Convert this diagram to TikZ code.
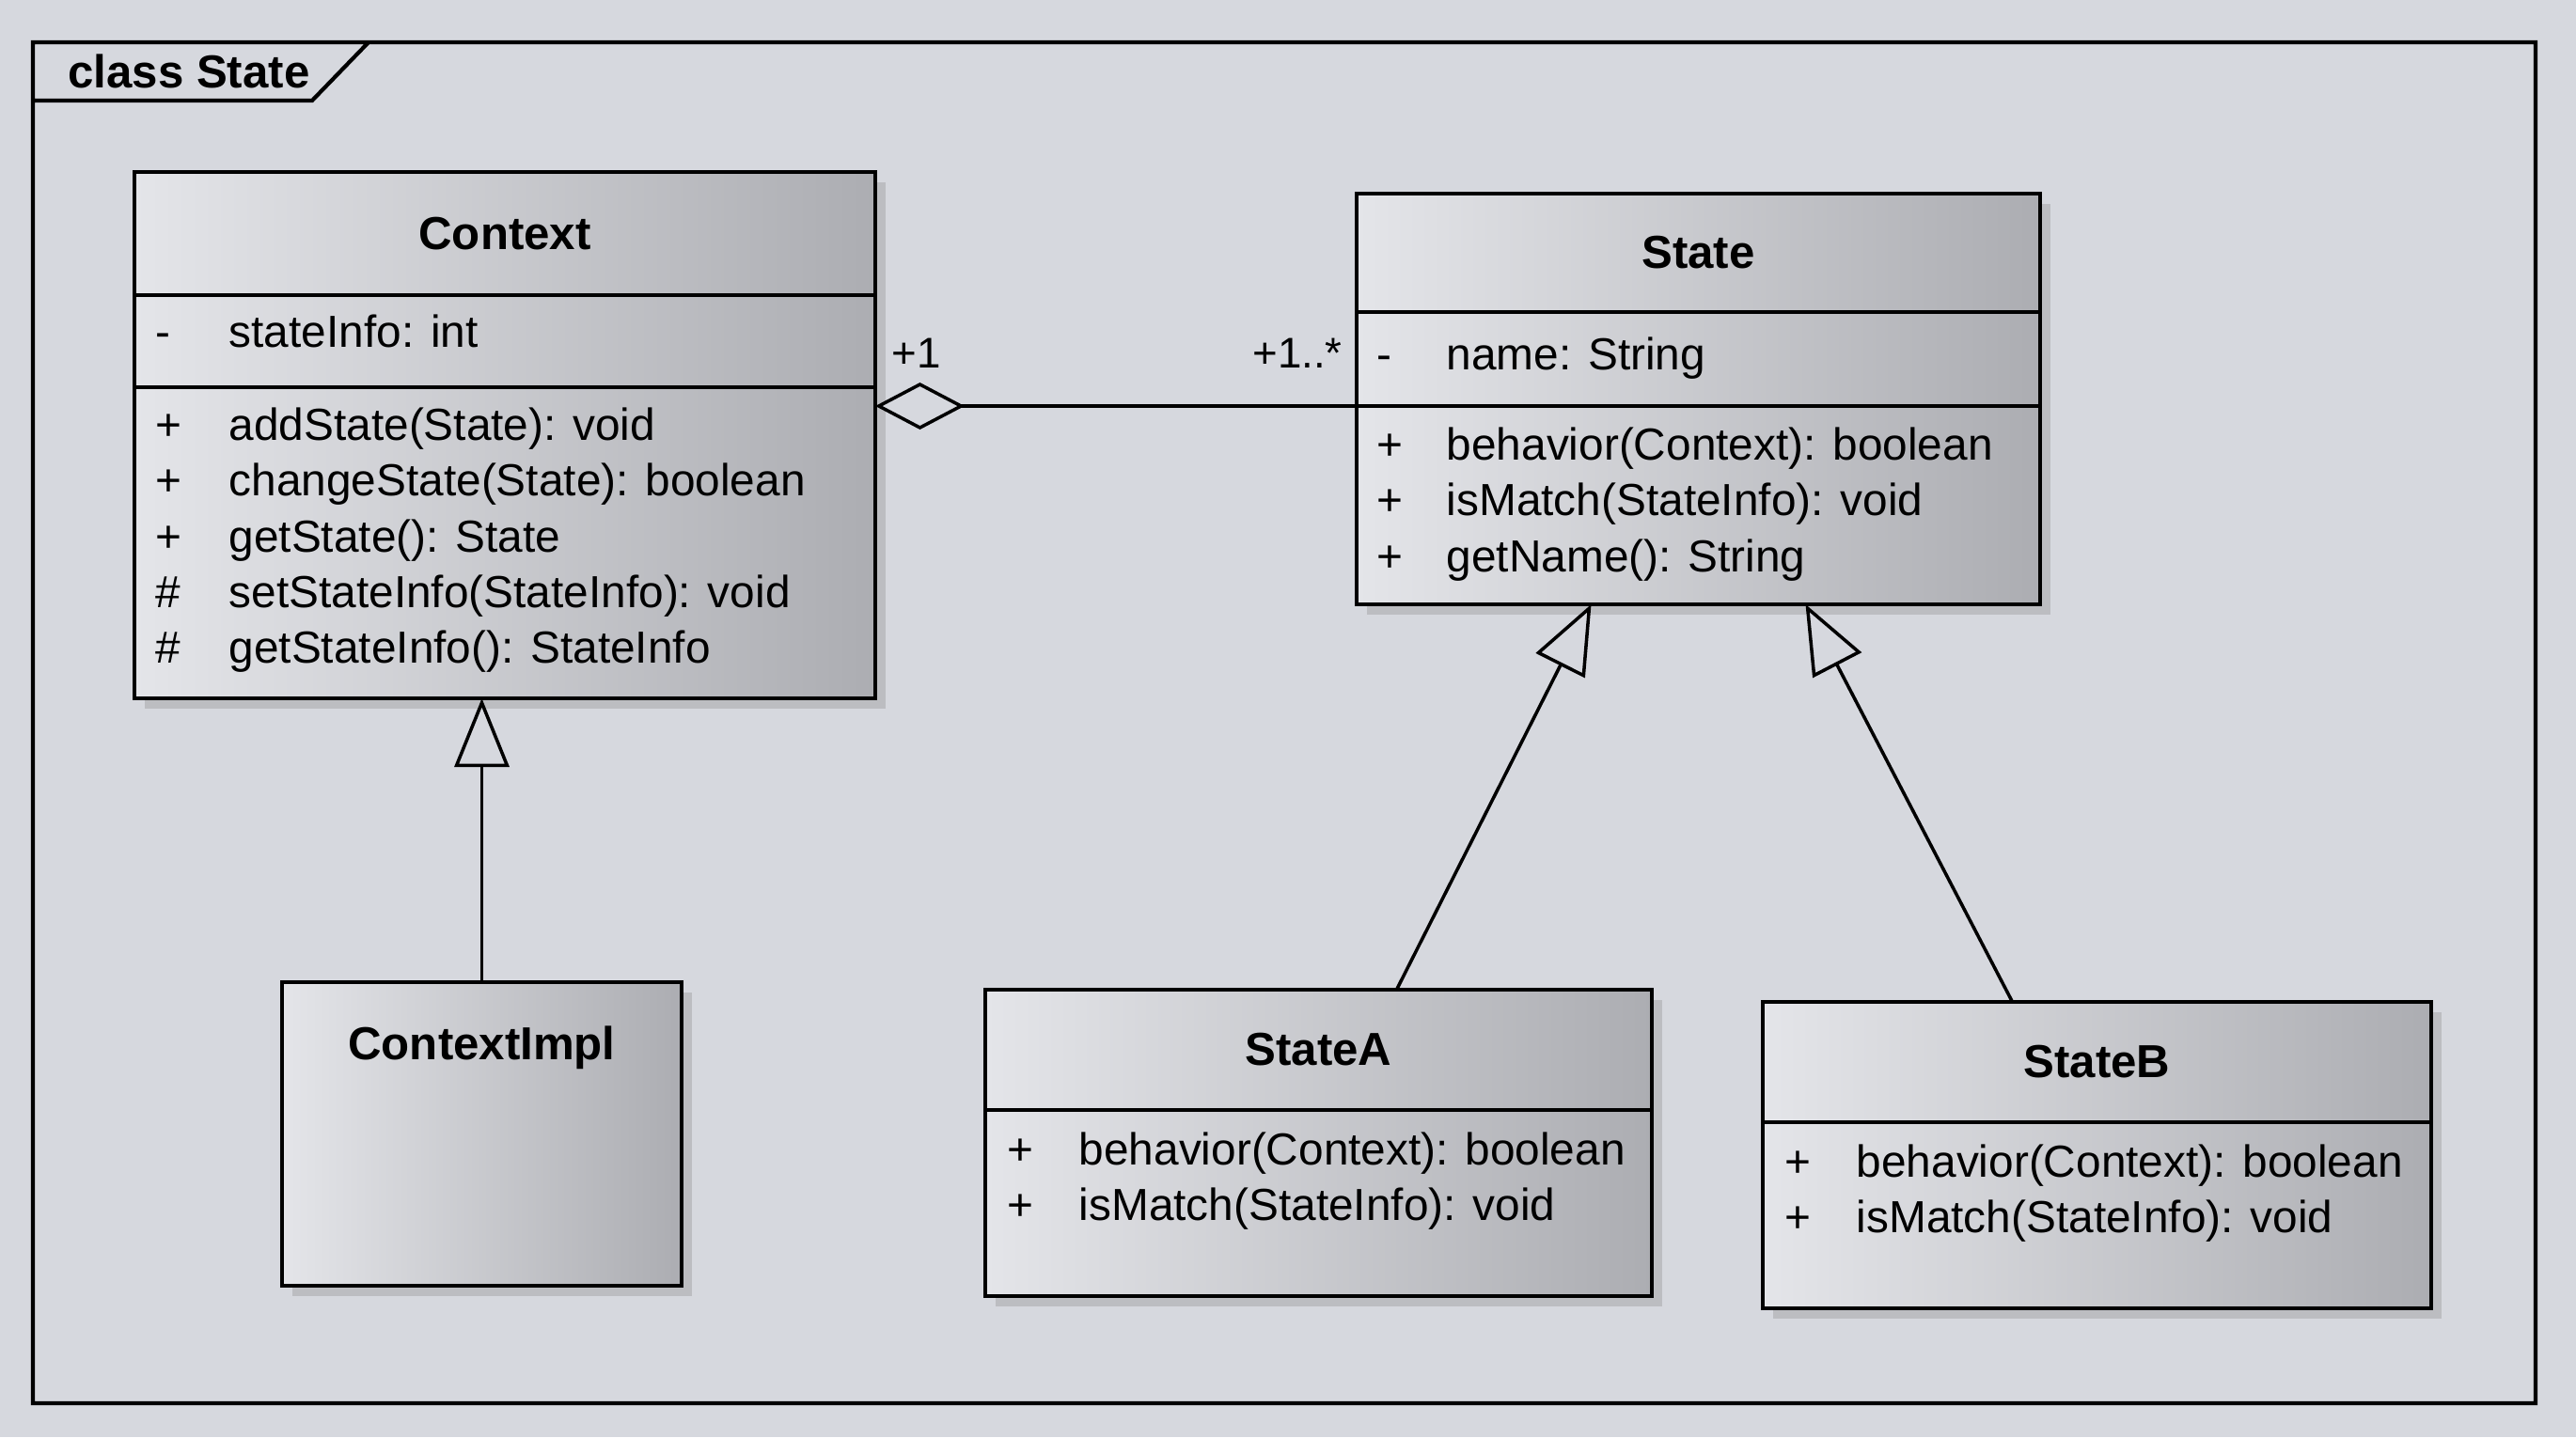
\documentclass[tikz,border=0pt]{standalone}
\usepackage{fontspec}
\setmainfont{Liberation Sans}
\usetikzlibrary{positioning,arrows.meta,shadows}
\definecolor{paper}{RGB}{214,216,222}
\definecolor{boxlight}{RGB}{228,229,233}
\definecolor{boxdark}{RGB}{172,173,178}
\tikzset{
  compart/.style={draw, line width=1.3pt, left color=boxlight, right color=boxdark,
    inner sep=0pt, outer sep=0pt,
    drop shadow={shadow xshift=3pt, shadow yshift=-3pt, opacity=0.3}},
  classname/.style={font=\fontsize{14}{17}\selectfont\bfseries},
  members/.style={inner sep=0pt, anchor=north west, font=\fontsize{13.6}{16.9}\selectfont},
  rolelbl/.style={font=\fontsize{13}{15}\selectfont},
  inherit/.style={line width=1pt, -{Triangle[fill=paper, length=0.73cm, width=0.58cm]}},
  aggr/.style={line width=1pt, {Diamond[fill=paper, length=0.95cm, width=0.5cm]}-}
}
\begin{document}
\begin{tikzpicture}
  \useasboundingbox[fill=paper] (0,0) rectangle (27.40,-15.29);
  \path[draw, line width=1.2pt] (0.35,-0.45) rectangle (26.97,-14.93)
                                (0.35,-1.07) -- (3.32,-1.07) -- (3.92,-0.45);
  \node[classname, anchor=west] (frametitle) at (0.60,-0.76) {class State};

  \node[compart, classname, anchor=north west, minimum width=7.88cm, minimum height=1.31cm] (ctx) at (1.43,-1.83) {Context};
  \node[compart, minimum width=7.88cm, minimum height=0.98cm, below=0pt of ctx] (ctxattr) {};
  \node[compart, minimum width=7.88cm, minimum height=3.31cm, below=0pt of ctxattr] (ctxops) {};
  \node[members] (ctxattrtxt) at ([xshift=0.22cm, yshift=-0.13cm]ctxattr.north west)
    {\begin{tabular}{@{}p{0.78cm}@{}l@{}}
      - & stateInfo: int
    \end{tabular}};
  \node[members] (ctxopstxt) at ([xshift=0.22cm, yshift=-0.14cm]ctxops.north west)
    {\begin{tabular}{@{}p{0.78cm}@{}l@{}}
      + & addState(State): void\\
      + & changeState(State): boolean\\
      + & getState(): State\\
      \# & setStateInfo(StateInfo): void\\
      \# & getStateInfo(): StateInfo
    \end{tabular}};

  \node[compart, classname, anchor=north west, minimum width=7.27cm, minimum height=1.26cm] (st) at (14.43,-2.06) {State};
  \node[compart, minimum width=7.27cm, minimum height=1.00cm, below=0pt of st] (stattr) {};
  \node[compart, minimum width=7.27cm, minimum height=2.11cm, below=0pt of stattr] (stops) {};
  \node[members] (stattrtxt) at ([xshift=0.21cm, yshift=-0.19cm]stattr.north west)
    {\begin{tabular}{@{}p{0.74cm}@{}l@{}}
      - & name: String
    \end{tabular}};
  \node[members] (stopstxt) at ([xshift=0.21cm, yshift=-0.15cm]stops.north west)
    {\begin{tabular}{@{}p{0.74cm}@{}l@{}}
      + & behavior(Context): boolean\\
      + & isMatch(StateInfo): void\\
      + & getName(): String
    \end{tabular}};

  \node[compart, anchor=north west, minimum width=4.25cm, minimum height=3.23cm] (cimpl) at (3.00,-10.45) {};
  \node[classname] (cimplname) at ([yshift=-0.70cm]cimpl.north) {ContextImpl};

  \node[compart, classname, anchor=north west, minimum width=7.09cm, minimum height=1.28cm] (sta) at (10.48,-10.53) {StateA};
  \node[compart, minimum width=7.09cm, minimum height=1.98cm, below=0pt of sta] (staops) {};
  \node[members] (staopstxt) at ([xshift=0.23cm, yshift=-0.16cm]staops.north west)
    {\begin{tabular}{@{}p{0.76cm}@{}l@{}}
      + & behavior(Context): boolean\\
      + & isMatch(StateInfo): void
    \end{tabular}};

  \node[compart, classname, anchor=north west, minimum width=7.11cm, minimum height=1.28cm] (stb) at (18.75,-10.66) {StateB};
  \node[compart, minimum width=7.11cm, minimum height=1.98cm, below=0pt of stb] (stbops) {};
  \node[members] (stbopstxt) at ([xshift=0.23cm, yshift=-0.16cm]stbops.north west)
    {\begin{tabular}{@{}p{0.76cm}@{}l@{}}
      + & behavior(Context): boolean\\
      + & isMatch(StateInfo): void
    \end{tabular}};

  \draw[aggr] (ctxops.east |- stops.north) -- (stops.north west);
  \node[rolelbl] (ctxend) at (9.75,-3.76) {+1};
  \node[rolelbl] (stend) at (13.80,-3.76) {+1..*};

  \draw[inherit] (cimpl.north) -- (cimpl.north |- ctxops.south);
  \draw[inherit] ([xshift=0.83cm]sta.north) -- ([xshift=-1.14cm]stops.south);
  \draw[inherit] ([xshift=-0.90cm]stb.north) -- ([xshift=1.14cm]stops.south);
\end{tikzpicture}
\end{document}
